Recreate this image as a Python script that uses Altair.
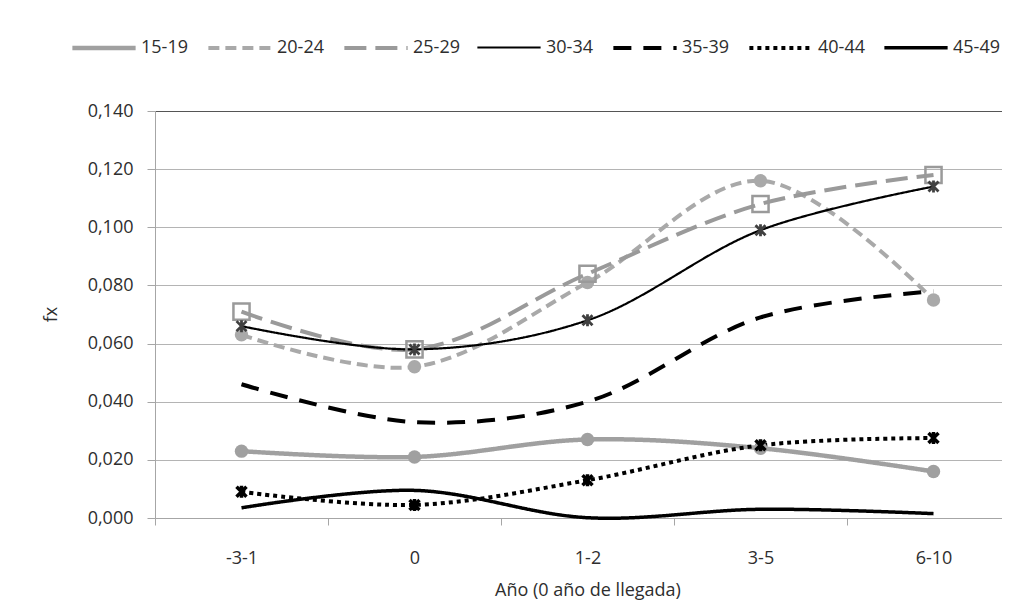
import altair as alt
import pandas as pd

categories = ["-3-1", "0", "1-2", "3-5", "6-10"]
groups = ["15-19", "20-24", "25-29", "30-34", "35-39", "40-44", "45-49"]

v15_19 = [0.023, 0.021, 0.027, 0.024, 0.016]
v20_24 = [0.063, 0.052, 0.081, 0.116, 0.075]
v25_29 = [0.071, 0.058, 0.084, 0.108, 0.118]
v30_34 = [0.066, 0.058, 0.068, 0.099, 0.114]
v35_39 = [0.046, 0.033, 0.040, 0.069, 0.078]
v40_44 = [0.009, 0.0045, 0.013, 0.025, 0.0275]
v45_49 = [0.0035, 0.0095, 0.0001, 0.003, 0.0015]

y_ticks = [0.0, 0.02, 0.04, 0.06, 0.08, 0.10, 0.12, 0.14]

series = [v15_19, v20_24, v25_29, v30_34, v35_39, v40_44, v45_49]
rows = []
for g, vals in zip(groups, series):
    for c, v in zip(categories, vals):
        rows.append({"Grupo": g, "Año": c, "fx": v})
df = pd.DataFrame(rows)

colors = ["#a0a0a0", "#a9a9a9", "#9a9a9a", "#000000", "#000000", "#000000", "#000000"]
dashes = [[1, 0], [11, 6], [22, 9], [1, 0], [18, 12], [4, 4], [1, 0]]
widths = [4.5, 4, 4, 2.2, 4, 4, 3.5]

FONT = "Open Sans"
TXT = "#2e2e2e"
FS = 18

xenc = alt.X(
    "Año:N",
    sort=categories,
    scale=alt.Scale(domain=categories, range=[0, 865], paddingInner=0, paddingOuter=0),
    axis=alt.Axis(
        title="Año (0 año de llegada)",
        tickBand="extent",
        tickSize=7,
        labelPadding=24,
        titlePadding=14,
        domainColor="#a6a6a6",
        tickColor="#a6a6a6",
        labelAngle=0,
        grid=False,
        labelFont=FONT, labelFontSize=FS, labelColor=TXT,
        titleFont=FONT, titleFontSize=FS, titleColor=TXT, titleFontWeight="normal",
    ),
)
yenc = alt.Y(
    "fx:Q",
    scale=alt.Scale(domain=[0, 0.14], nice=False),
    axis=alt.Axis(
        title="fx",
        values=y_ticks,
        labelExpr="replace(format(datum.value, '.3f'), '.', ',')",
        tickSize=8,
        labelPadding=14,
        titleAngle=-90,
        titleX=-95,
        titleY=203,
        domainColor="#a6a6a6",
        tickColor="#a6a6a6",
        gridColor={"condition": {"test": "datum.value >= 0.139", "value": "#555555"}, "value": "#b4b4b4"},
        gridWidth=1.2,
        labelFont=FONT, labelFontSize=FS, labelColor=TXT,
        titleFont=FONT, titleFontSize=FS, titleColor=TXT, titleFontWeight="normal",
    ),
)

color_scale = alt.Scale(domain=groups, range=colors)

lines = alt.Chart(df).mark_line(interpolate="catmull-rom").encode(
    x=xenc,
    y=yenc,
    color=alt.Color("Grupo:N", scale=color_scale, sort=groups,
                    legend=alt.Legend(
                        title=None, orient="none", direction="horizontal",
                        columns=7, legendX=-85, legendY=-97,
                        symbolType="stroke", symbolSize=4000,
                        labelFontSize=FS, labelFont=FONT, labelColor=TXT,
                        columnPadding=12, labelOffset=3,
                    )),
    strokeDash=alt.StrokeDash("Grupo:N", scale=alt.Scale(domain=groups, range=dashes), sort=groups),
    strokeWidth=alt.StrokeWidth("Grupo:N", scale=alt.Scale(type="ordinal", domain=groups, range=widths), sort=groups),
)

circ = alt.Chart(df).transform_filter(
    alt.FieldOneOfPredicate(field="Grupo", oneOf=["15-19", "20-24"])
).mark_point(shape="circle", filled=True, size=180, opacity=1).encode(
    x=xenc, y=yenc,
    color=alt.Color("Grupo:N", scale=color_scale, legend=None),
)

squares = alt.Chart(df).transform_filter(
    alt.FieldEqualPredicate(field="Grupo", equal="25-29")
).mark_point(shape="square", filled=False, size=260, strokeWidth=2.5, opacity=1).encode(
    x=xenc, y=yenc,
    color=alt.Color("Grupo:N", scale=color_scale, legend=None),
)

star = "M-1,-1L1,1M-1,1L1,-1M0,-1.2L0,1.2"
stars_a = alt.Chart(df).transform_filter(
    alt.FieldEqualPredicate(field="Grupo", equal="30-34")
).mark_point(shape=star, filled=False, size=100, strokeWidth=2.8, color="#404040", opacity=1).encode(
    x=xenc, y=yenc,
)
stars_b = alt.Chart(df).transform_filter(
    alt.FieldEqualPredicate(field="Grupo", equal="40-44")
).mark_point(shape=star, filled=False, size=100, strokeWidth=3.5, color="#000000", opacity=1).encode(
    x=xenc, y=yenc,
)

chart = alt.layer(lines, circ, squares, stars_a, stars_b).properties(
    width=847,
    height=407,
    autosize=alt.AutoSizeParams(type="none"),
    padding={"left": 147, "top": 103, "right": 0, "bottom": 88},
    background="white",
).configure_view(stroke=None)

chart.save("out.html", embed_options={"renderer": "svg", "actions": False})
